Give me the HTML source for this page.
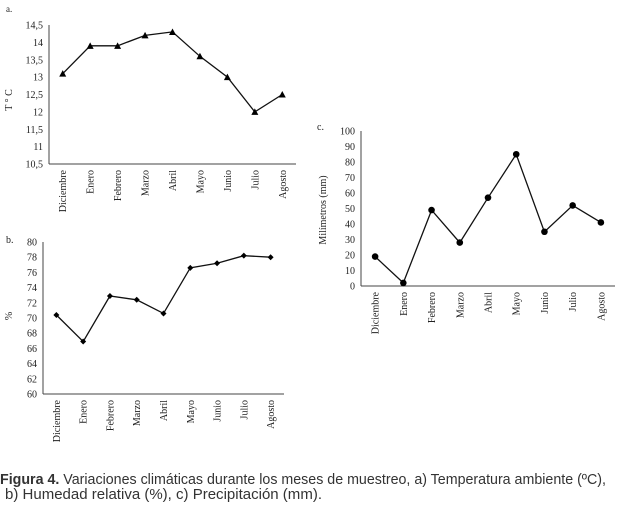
<!DOCTYPE html>
<html><head><meta charset="utf-8"><style>
html,body{margin:0;padding:0;background:#fff;}
svg{display:block;font-family:"Liberation Serif",serif;}
</style></head><body>
<svg id="fig" width="623" height="512" viewBox="0 0 623 512">
<text x="6" y="12" font-size="9" fill="#222">a.</text>
<text x="6" y="243" font-size="10" fill="#222">b.</text>
<text x="317" y="130" font-size="10" fill="#222">c.</text>
<text x="0" y="484" font-size="14.5" fill="#333" font-family="Liberation Sans, sans-serif" textLength="606" lengthAdjust="spacingAndGlyphs"><tspan font-weight="bold">Figura 4.</tspan> Variaciones climáticas durante los meses de muestreo, a) Temperatura ambiente (ºC),</text>
<text x="5" y="499" font-size="14.5" fill="#333" font-family="Liberation Sans, sans-serif" textLength="317" lengthAdjust="spacingAndGlyphs">b) Humedad relativa (%), c) Precipitación (mm).</text>
</svg>
<script>
const months = ["Diciembre","Enero","Febrero","Marzo","Abril","Mayo","Junio","Julio","Agosto"];
const tempValues = [13.1, 13.9, 13.9, 14.2, 14.3, 13.6, 13.0, 12.0, 12.5];
const tempTicks = [10.5, 11, 11.5, 12, 12.5, 13, 13.5, 14, 14.5];
const humValues = [70.4, 66.9, 72.9, 72.4, 70.6, 76.6, 77.2, 78.2, 78.0];
const humTicks = [60, 62, 64, 66, 68, 70, 72, 74, 76, 78, 80];
const rainValues = [19, 2, 49, 28, 57, 85, 35, 52, 41];
const rainTicks = [0, 10, 20, 30, 40, 50, 60, 70, 80, 90, 100];

const NS = "http://www.w3.org/2000/svg";
const svg = document.getElementById("fig");
function mk(tag, attrs, parent) {
  const e = document.createElementNS(NS, tag);
  for (const k in attrs) e.setAttribute(k, attrs[k]);
  (parent || svg).appendChild(e);
  return e;
}
function chart(id, cfg, values, ticks) {
  const g = mk("g", {});
  
  
  const min = ticks[0], max = ticks[ticks.length - 1];
  const y = v => cfg.y1 - (v - min) / (max - min) * (cfg.y1 - cfg.y0);
  const bw = (cfg.x1 - cfg.x0) / months.length;
  const x = i => cfg.x0 + bw * (i + 0.5);
  const ya = mk("line", {x1: cfg.x0, y1: cfg.y0, x2: cfg.x0, y2: cfg.y1, stroke: "#444", "stroke-width": 1}, g);
  
  
  const xa = mk("line", {x1: cfg.x0, y1: cfg.y1, x2: cfg.x1, y2: cfg.y1, stroke: "#444", "stroke-width": 1}, g);
  
  
  ticks.forEach(t => {
    const tx = mk("text", {x: cfg.x0 - 6, y: y(t) + 3.5, "font-size": 10, "text-anchor": "end", fill: "#222"}, g);
    tx.textContent = String(t).replace(".", ",");
    
    
  });
  months.forEach((m, i) => {
    const tx = mk("text", {x: 0, y: 0, "font-size": 10, "text-anchor": "end", fill: "#222",
      transform: "translate(" + (x(i) + 3.5) + "," + (cfg.y1 + 6) + ") rotate(-90)"}, g);
    tx.textContent = m;
    
    
  });
  const yl = mk("text", {x: 0, y: 0, "font-size": 10, "text-anchor": "middle", fill: "#222",
    transform: "translate(" + cfg.lx + "," + cfg.ly + ") rotate(-90)"}, g);
  yl.textContent = cfg.title;
  
  
  const pts = values.map((v, i) => x(i).toFixed(1) + "," + y(v).toFixed(1)).join(" ");
  const pl = mk("polyline", {points: pts, fill: "none", stroke: "#111", "stroke-width": 1.3}, g);
  
  
  values.forEach((v, i) => {
    let m;
    const cx = x(i), cy = y(v);
    if (cfg.marker === "tri") {
      m = mk("polygon", {points: (cx-3.5)+","+(cy+3)+" "+(cx+3.5)+","+(cy+3)+" "+cx+","+(cy-3.5), fill: "#000"}, g);
    } else if (cfg.marker === "diamond") {
      m = mk("polygon", {points: cx+","+(cy-3)+" "+(cx+3)+","+cy+" "+cx+","+(cy+3)+" "+(cx-3)+","+cy, fill: "#000"}, g);
    } else {
      m = mk("circle", {cx: cx, cy: cy, r: 3.3, fill: "#000"}, g);
    }
    
    
  });
}
chart("temperature", {x0: 49, x1: 296, y0: 25, y1: 164, lx: 12, ly: 100, title: "T ° C", marker: "tri"}, tempValues, tempTicks);
chart("humidity", {x0: 43, x1: 284, y0: 242, y1: 394, lx: 12, ly: 316, title: "%", marker: "diamond"}, humValues, humTicks);
chart("precipitation", {x0: 361, x1: 615, y0: 131, y1: 286, lx: 326, ly: 210, title: "Milímetros (mm)", marker: "circle"}, rainValues, rainTicks);
</script>
</body></html>
